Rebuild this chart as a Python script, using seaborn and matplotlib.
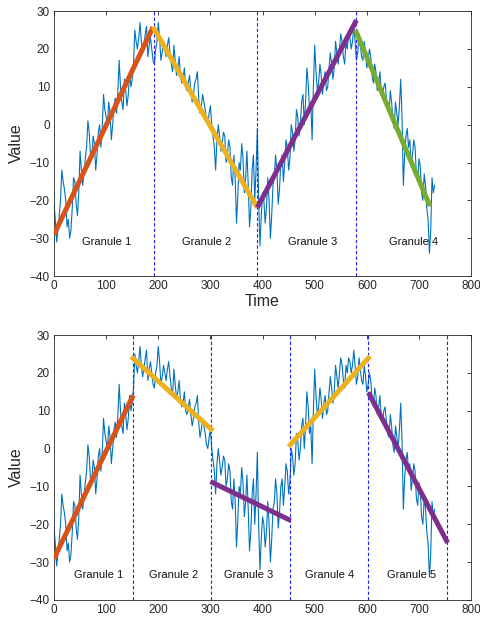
import numpy as np
import pandas as pd
import matplotlib
matplotlib.use("Agg")
import matplotlib.pyplot as plt
import seaborn as sns

# ---- data ----
time = list(range(0, 735, 5))
value = [-21, -31, -24, -12, -17, -27, -30, -22, -15, -24,
         -7, -16, -9, 1, -8, -3, -12, -2, -6, 8,
         2, 6, -4, 5, 3, 17, 6, 12, 5, 14,
         12, 25, 20, 27, 19, 24, 18, 23, 17, 20,
         27, 17, 22, 18, 23, 16, 21, 13, 18, 11,
         15, 9, 13, 6, 11, 14, 3, 8, 4, 0,
         5, -3, -12, 0, -7, -2, -10, -4, -14, -8,
         -26, -10, -5, -18, -7, -27, -12, -20, -1, -32,
         -18, -26, -14, -30, -16, -8, -21, -10, -15, -4,
         -12, 0, -7, 4, -3, 6, 0, 15, 4, -4,
         21, 9, 16, 8, 14, 10, 19, 12, 22, 16,
         24, 18, 22, 24, 20, 26, 17, 24, 18, 22,
         15, 20, 13, 16, 9, 14, 7, 11, 4, 9,
         1, 6, 0, 12, -16, -3, -6, -11, -4, -13,
         -9, -18, -13, -22, -34, -14, -16]

# readings in between (t = 2.5, 7.5, ...)
time_mid = [t + 2.5 for t in range(0, 730, 5)]
value_mid = [-25, -28, -20, -15, -20, -25, -28, -14, -21, -18,
             -12, -13, -6, -2, -9, -5, -8, 0, -1, 4,
             0, 3, 0, 7, 9, 10, 4, 9, 8, 10,
             16, 22, 23, 22, 21, 26, 21, 20, 16, 22,
             23, 19, 20, 21, 19, 14, 17, 15, 13, 12,
             10, 11, 9, 8, 12, 7, 5, 6, 1, 3,
             0, -6, -4, -3, -5, -3, -8, -6, -16, -14,
             -19, -12, -9, -14, -16, -22, -8, -12, -20, -24,
             -20, -22, -20, -24, -14, -12, -17, -8, -10, -6,
             -9, -2, -4, 2, 0, 8, 6, 11, 6, 10,
             14, 11, 13, 12, 9, 15, 16, 15, 19, 20,
             22, 16, 20, 23, 22, 22, 19, 21, 17, 19,
             17, 18, 11, 14, 11, 9, 10, 7, 3, 6,
             -1, 3, 5, 2, -8, -1, -4, -8, -6, -15,
             -11, -20, -16, -25, -28, -18]

top_seg_t = [(0, 190), (190, 390), (390, 580), (578, 721)]
top_seg_v = [(-29, 25.8), (25.8, -21.9), (-21.9, 27.6), (25.0, -21.5)]
top_seg_colors = ["#D95319", "#EDB120", "#7E2F8E", "#77AC30"]
top_bounds = [192, 390, 580]
top_labels = ["Granule 1", "Granule 2", "Granule 3", "Granule 4"]
top_label_t = [101, 293, 496, 690]

bot_seg_t = [(0, 152), (148, 305), (300, 454), (450, 606), (603, 755)]
bot_seg_v = [(-29, 14.1), (24.3, 4.7), (-8.7, -19.0), (0.5, 24.4), (14.8, -24.9)]
bot_seg_colors = ["#D95319", "#EDB120", "#7E2F8E", "#EDB120", "#7E2F8E"]
bot_bounds = [151, 301, 452, 603, 754]
bot_labels = ["Granule 1", "Granule 2", "Granule 3", "Granule 4", "Granule 5"]
bot_label_t = [85, 229, 373, 528, 685]

df = pd.DataFrame({"Time": time + time_mid, "Value": value + value_mid})
df = df.sort_values("Time").reset_index(drop=True)

sns.set_style("white")
plt.rcParams["font.family"] = ["Liberation Sans", "DejaVu Sans"]

fig = plt.figure(figsize=(4.8, 6.19), dpi=100)
ax1 = fig.add_axes([0.1125, 0.554, 0.869, 0.428])
ax2 = fig.add_axes([0.1125, 0.0307, 0.869, 0.428])

def draw(ax, seg_t, seg_v, colors, bounds, labels, label_t, label_y):
    sns.lineplot(data=df, x="Time", y="Value", ax=ax, color="#0072BD", linewidth=0.8,
                 sort=False)
    for b in bounds:
        ax.axvline(b, color="#2020ff", linestyle=(0, (3, 2)), linewidth=0.8, zorder=3)
    for (t0, t1), (v0, v1), c in zip(seg_t, seg_v, colors):
        sns.lineplot(x=[t0, t1], y=[v0, v1], ax=ax, color=c, linewidth=3.6,
                     solid_capstyle="butt", zorder=4)
    for lab, lt in zip(labels, label_t):
        ax.text(lt, label_y, lab, ha="center", va="center", fontsize=8, color="#111111")
    ax.set_xlim(0, 800)
    ax.set_ylim(-40, 30)
    ax.set_xticks(range(0, 801, 100))
    ax.set_yticks(range(-40, 31, 10))
    ax.tick_params(direction="in", length=3, width=0.6, labelsize=8.5,
                   colors="#262626", top=True, right=True, pad=3)
    for sp in ax.spines.values():
        sp.set_color("#262626")
        sp.set_linewidth(0.6)
        sp.set_visible(True)
    ax.set_ylabel("Value", fontsize=11.5, color="#262626", labelpad=4)

draw(ax1, top_seg_t, top_seg_v, top_seg_colors, top_bounds, top_labels, top_label_t, -31)
ax1.set_xlabel("Time", fontsize=11.5, color="#262626", labelpad=1)
draw(ax2, bot_seg_t, bot_seg_v, bot_seg_colors, bot_bounds, bot_labels, bot_label_t, -33.4)
ax2.set_xlabel("")

fig.savefig("out.png", dpi=100)
